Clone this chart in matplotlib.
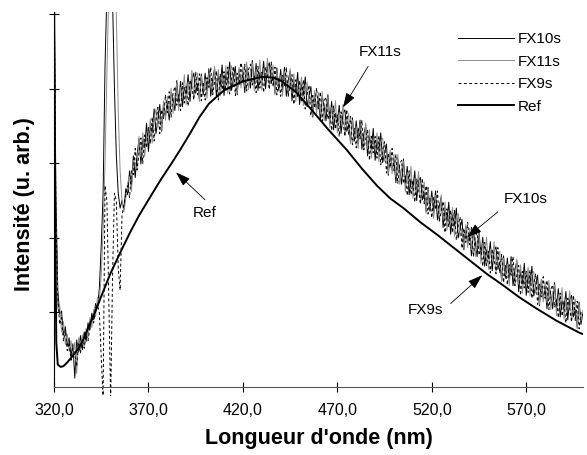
import numpy as np
import matplotlib.pyplot as plt

plt.rcParams['font.family'] = ['Liberation Sans', 'DejaVu Sans']

# wavelength grid of the three FX spectra (1 nm step)
wl = np.arange(320, 601)

fx10 = [
    5.6, 2.6, 1.30, 0.98, 1.02, 0.70, 0.81, 0.55, 0.66, 0.42,
    0.58, 0.12, 0.63, 0.47, 0.69, 0.50, 0.74, 0.61, 0.86, 0.77,
    0.99, 0.90, 1.12, 1.06, 1.32, 1.9, 2.6, 4.3, 5.3, 5.7,
    5.8, 5.2, 4.0, 3.1, 2.6, 2.4, 2.50, 2.38, 2.66, 2.58,
    2.90, 2.70, 3.10, 2.81, 3.12, 3.33, 2.99, 3.33, 3.21, 3.54,
    3.16, 3.50, 3.41, 3.73, 3.40, 3.60, 3.79, 3.43, 3.81, 3.63,
    3.82, 3.58, 3.95, 3.87, 3.71, 4.11, 3.81, 4.10, 3.76, 4.02,
    3.93, 4.19, 3.83, 4.13, 4.21, 3.94, 4.07, 3.85, 4.20, 3.92,
    4.21, 3.95, 4.27, 3.90, 4.13, 4.27, 3.89, 4.18, 4.03, 4.32,
    3.91, 4.21, 4.08, 4.36, 3.98, 4.15, 4.30, 3.92, 4.26, 4.06,
    4.22, 3.95, 4.30, 4.19, 4.01, 4.38, 4.07, 4.34, 3.98, 4.22,
    4.12, 4.37, 4.00, 4.29, 4.35, 4.07, 4.18, 3.94, 4.28, 3.98,
    4.26, 3.98, 4.29, 3.90, 4.11, 4.24, 3.84, 4.12, 3.95, 4.22,
    3.79, 4.06, 3.91, 4.16, 3.76, 3.90, 4.03, 3.62, 3.95, 3.72,
    3.87, 3.58, 3.90, 3.77, 3.57, 3.92, 3.58, 3.83, 3.45, 3.67,
    3.55, 3.78, 3.40, 3.67, 3.72, 3.43, 3.53, 3.28, 3.61, 3.30,
    3.57, 3.28, 3.58, 3.19, 3.39, 3.51, 3.10, 3.37, 3.19, 3.47,
    3.04, 3.31, 3.16, 3.41, 3.01, 3.14, 3.26, 2.84, 3.15, 2.91,
    3.04, 2.74, 3.06, 2.92, 2.72, 3.06, 2.72, 2.96, 2.58, 2.79,
    2.67, 2.90, 2.50, 2.77, 2.81, 2.51, 2.61, 2.35, 2.68, 2.36,
    2.63, 2.34, 2.63, 2.24, 2.43, 2.55, 2.14, 2.40, 2.22, 2.48,
    2.05, 2.31, 2.16, 2.40, 2.00, 2.13, 2.25, 1.84, 2.15, 1.92,
    2.05, 1.76, 2.08, 1.95, 1.75, 2.10, 1.76, 2.01, 1.62, 1.84,
    1.72, 1.95, 1.56, 1.83, 1.88, 1.58, 1.68, 1.43, 1.76, 1.46,
    1.73, 1.44, 1.75, 1.36, 1.57, 1.69, 1.28, 1.56, 1.38, 1.66,
    1.23, 1.51, 1.36, 1.62, 1.22, 1.37, 1.50, 1.09, 1.42, 1.19,
    1.33, 1.05, 1.37, 1.24, 1.05, 1.40, 1.06, 1.32, 0.94, 1.16,
    1.05, 1.28, 0.90, 1.17, 1.23, 0.94, 1.04, 0.80, 1.14, 0.84,
    1.00,
]

fx11 = [
    5.6, 2.2, 1.05, 1.10, 0.74, 0.88, 0.57, 0.71, 0.48, 0.62,
    0.44, 0.60, 0.18, 0.66, 0.50, 0.70, 0.55, 0.79, 0.66, 0.93,
    0.80, 1.04, 0.94, 1.20, 1.16, 1.5, 2.1, 3.0, 4.2, 5.3,
    5.8, 5.9, 5.6, 5.0, 3.7, 2.9, 2.5, 2.35, 2.52, 2.74,
    2.82, 2.62, 3.04, 3.01, 2.92, 3.36, 3.09, 3.41, 3.09, 3.37,
    3.30, 3.60, 3.27, 3.61, 3.73, 3.49, 3.65, 3.45, 3.84, 3.58,
    3.90, 3.66, 4.01, 3.67, 3.91, 4.08, 3.71, 4.02, 3.88, 4.19,
    3.79, 4.09, 3.97, 4.25, 3.88, 4.05, 4.21, 3.83, 4.17, 3.97,
    4.13, 3.87, 4.21, 4.10, 3.93, 4.30, 3.99, 4.26, 3.91, 4.15,
    4.05, 4.31, 3.94, 4.24, 4.31, 4.04, 4.16, 3.94, 4.29, 4.01,
    4.30, 4.03, 4.36, 3.99, 4.21, 4.35, 3.97, 4.26, 4.10, 4.39,
    3.98, 4.27, 4.14, 4.41, 4.02, 4.18, 4.32, 3.92, 4.25, 4.03,
    4.18, 3.90, 4.23, 4.10, 3.91, 4.27, 3.94, 4.20, 3.83, 4.05,
    3.93, 4.16, 3.77, 4.04, 4.09, 3.79, 3.89, 3.64, 3.98, 3.67,
    3.95, 3.66, 3.96, 3.57, 3.77, 3.89, 3.48, 3.75, 3.57, 3.84,
    3.41, 3.68, 3.54, 3.79, 3.39, 3.54, 3.67, 3.26, 3.58, 3.35,
    3.49, 3.20, 3.52, 3.39, 3.19, 3.54, 3.20, 3.45, 3.07, 3.30,
    3.18, 3.41, 3.02, 3.29, 3.34, 3.03, 3.12, 2.86, 3.18, 2.86,
    3.12, 2.82, 3.12, 2.72, 2.92, 3.03, 2.62, 2.88, 2.70, 2.96,
    2.53, 2.80, 2.64, 2.89, 2.48, 2.62, 2.75, 2.33, 2.65, 2.41,
    2.55, 2.26, 2.57, 2.44, 2.23, 2.58, 2.24, 2.48, 2.10, 2.31,
    2.19, 2.41, 2.02, 2.28, 2.33, 2.02, 2.11, 1.86, 2.18, 1.87,
    2.13, 1.84, 2.14, 1.75, 1.95, 2.07, 1.66, 1.93, 1.74, 2.01,
    1.58, 1.85, 1.70, 1.95, 1.55, 1.69, 1.82, 1.41, 1.73, 1.51,
    1.65, 1.36, 1.69, 1.56, 1.37, 1.72, 1.38, 1.64, 1.26, 1.49,
    1.37, 1.61, 1.22, 1.50, 1.55, 1.26, 1.36, 1.11, 1.45, 1.14,
    1.41, 1.13, 1.43, 1.04, 1.25, 1.37, 0.96, 1.24, 1.06, 1.33,
    0.91, 1.18, 1.04, 1.29, 0.90, 1.05, 1.18, 0.78, 1.11, 0.89,
    1.03,
]

fx9 = [
    5.6, 2.3, 1.20, 0.84, 0.93, 0.62, 0.76, 0.49, 0.60, 0.36,
    0.52, 0.44, 0.28, 0.58, 0.45, 0.64, 0.52, 0.70, 0.62, 0.80,
    0.92, 0.86, 1.06, 1.10, 1.00, 0.40, -0.15, 2.7, 2.5, 1.2,
    -0.2, 1.5, 2.6, 2.5, 1.6, 1.3, 2.3, 2.45, 2.58, 2.70,
    2.54, 2.90, 2.85, 3.20, 2.91, 3.14, 3.34, 3.00, 3.38, 3.21,
    3.48, 3.26, 3.62, 3.30, 3.57, 3.75, 3.40, 3.72, 3.60, 3.92,
    3.68, 3.96, 3.62, 3.94, 4.03, 3.78, 3.92, 3.71, 4.08, 3.81,
    4.03, 3.77, 4.12, 4.02, 3.85, 4.23, 3.92, 4.20, 3.84, 4.09,
    3.85, 4.15, 4.02, 4.29, 3.92, 4.08, 4.24, 3.85, 4.20, 3.99,
    4.23, 3.97, 4.29, 3.93, 4.15, 4.30, 3.91, 4.21, 4.05, 4.35,
    4.08, 4.33, 3.97, 4.26, 4.33, 4.05, 4.18, 3.95, 4.30, 4.01,
    4.22, 3.95, 4.29, 4.18, 3.99, 4.36, 4.03, 4.29, 3.92, 4.15,
    3.90, 4.18, 4.04, 4.29, 3.90, 4.05, 4.19, 3.79, 4.12, 3.89,
    4.11, 3.82, 4.12, 3.73, 3.93, 4.05, 3.64, 3.91, 3.74, 4.01,
    3.73, 3.96, 3.57, 3.84, 3.89, 3.59, 3.69, 3.44, 3.77, 3.46,
    3.65, 3.36, 3.69, 3.56, 3.36, 3.72, 3.38, 3.63, 3.25, 3.47,
    3.21, 3.48, 3.33, 3.58, 3.18, 3.32, 3.45, 3.04, 3.36, 3.14,
    3.36, 3.07, 3.37, 2.98, 3.18, 3.29, 2.87, 3.13, 2.94, 3.20,
    2.90, 3.12, 2.73, 2.99, 3.04, 2.73, 2.83, 2.57, 2.90, 2.58,
    2.77, 2.48, 2.79, 2.66, 2.45, 2.80, 2.46, 2.70, 2.32, 2.53,
    2.27, 2.54, 2.38, 2.63, 2.22, 2.36, 2.49, 2.07, 2.39, 2.15,
    2.37, 2.07, 2.37, 1.97, 2.17, 2.28, 1.86, 2.13, 1.94, 2.21,
    1.91, 2.14, 1.75, 2.02, 2.07, 1.77, 1.87, 1.62, 1.94, 1.63,
    1.82, 1.53, 1.85, 1.72, 1.52, 1.87, 1.53, 1.78, 1.40, 1.63,
    1.37, 1.64, 1.50, 1.75, 1.36, 1.50, 1.63, 1.23, 1.55, 1.33,
    1.55, 1.27, 1.57, 1.19, 1.39, 1.52, 1.11, 1.38, 1.21, 1.48,
    1.19, 1.43, 1.04, 1.31, 1.37, 1.07, 1.17, 0.93, 1.26, 0.95,
    1.15, 0.86, 1.19, 1.06, 0.87, 1.23, 0.89, 1.15, 0.78, 1.01,
    0.96,
]

# reference spectrum (smooth, read at coarser points)
ref_wl = [320, 320.6, 321.2, 322, 323.5, 325, 327, 330, 333, 336, 339, 342,
          346, 350, 355, 360, 365, 370, 376, 383, 387, 392, 397, 402, 410,
          420, 430, 436, 440, 448, 457, 465, 475, 483, 491, 498, 505, 514,
          523, 531, 540, 549, 558, 566, 575, 586, 598, 600]
ref = [5.6, 2.5, 0.6, 0.30, 0.27, 0.28, 0.33, 0.42, 0.52, 0.66, 0.85, 1.02,
       1.28, 1.53, 1.80, 2.06, 2.30, 2.51, 2.76, 3.03, 3.19, 3.40, 3.62, 3.80,
       3.98, 4.10, 4.16, 4.15, 4.11, 3.96, 3.70, 3.46, 3.18, 2.93, 2.70, 2.53,
       2.40, 2.21, 2.04, 1.88, 1.70, 1.52, 1.36, 1.21, 1.06, 0.89, 0.73, 0.71]

xticks = [320, 370, 420, 470, 520, 570]
yticks = [1, 2, 3, 4, 5]

fig = plt.figure(figsize=(5.87, 4.55), dpi=100)
ax = fig.add_axes([0.092, 0.1297, 0.901, 0.8439])

ax.plot(wl, fx10, color='black', lw=0.7, label='FX10s')
ax.plot(wl, fx11, color='#8c8c8c', lw=0.7, label='FX11s')
ax.plot(wl, fx9, color='black', lw=0.7, ls=(0, (3, 2.5)), label='FX9s')
ax.plot(ref_wl, ref, color='black', lw=1.4, label='Ref')

ax.set_xlim(320, 600)
ax.set_ylim(-0.12, 5.03)

for s in ['top', 'right']:
    ax.spines[s].set_visible(False)
ax.spines['bottom'].set_position(('data', 0))
ax.spines['bottom'].set_bounds(320, 600)
ax.spines['left'].set_bounds(0, 5.03)
ax.spines['bottom'].set_color('#555555')

ax.set_xticks(xticks)
ax.set_xticklabels([f'{t:.1f}'.replace('.', ',') for t in xticks], fontsize=11.5)
ax.set_yticks(yticks)
ax.set_yticklabels([])
ax.tick_params(direction='inout', length=7, width=0.8, pad=8)

ax.set_xlabel("Longueur d'onde (nm)", fontsize=15.5, fontweight='bold', labelpad=7)
ax.set_ylabel('Intensité (u. arb.)', fontsize=15.5, fontweight='bold', labelpad=2)

# arrows + labels
arrow = dict(arrowstyle='-|>,head_length=0.9,head_width=0.3', color='black',
             lw=0.6, shrinkA=0, shrinkB=0)
ax.annotate('', xy=(473, 3.75), xytext=(486.3, 4.30), arrowprops=arrow)
ax.text(492.7, 4.49, 'FX11s', fontsize=11, ha='center', va='center')
ax.annotate('', xy=(384.6, 2.88), xytext=(400, 2.51), arrowprops=arrow)
ax.text(400, 2.33, 'Ref', fontsize=11, ha='center', va='center')
ax.annotate('', xy=(538.7, 2.01), xytext=(555, 2.35), arrowprops=arrow)
ax.text(569.5, 2.52, 'FX10s', fontsize=11, ha='center', va='center')
ax.annotate('', xy=(546.7, 1.50), xytext=(530, 1.12), arrowprops=arrow)
ax.text(516.5, 1.03, 'FX9s', fontsize=11, ha='center', va='center')

ax.legend(loc='upper left', bbox_to_anchor=(0.752, 0.963), frameon=False,
          fontsize=11, handlelength=3.7, handletextpad=0.2, labelspacing=0.55,
          borderaxespad=0)

fig.savefig('out.png', dpi=100)
